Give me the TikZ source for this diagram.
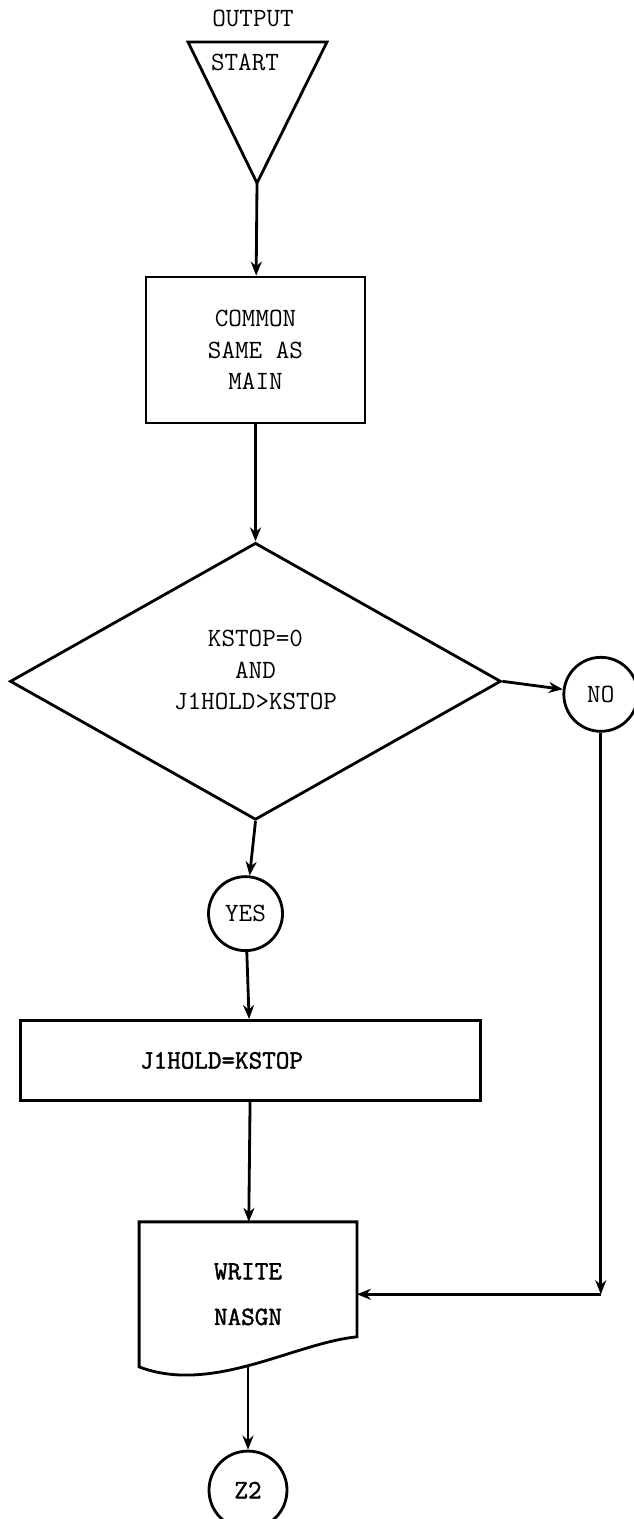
\documentclass[tikz,border=0pt]{standalone}
\usepackage{fontspec}
\setmonofont{Latin Modern Mono}[AutoFakeBold=1.6]
\usetikzlibrary{arrows.meta, positioning, calc, shapes.geometric}

\begin{document}
\begin{tikzpicture}[
    font=\ttfamily\fontsize{15}{18}\selectfont,
    line width=1.6pt,
    node distance=1cm,
    block/.style={draw, minimum width=4.38cm, minimum height=2.92cm, align=center},
    decision/.style={diamond, draw, minimum width=9.82cm, minimum height=5.54cm, inner sep=0pt, align=center},
    conn/.style={circle, draw, minimum size=1.48cm, inner sep=0pt},
    arr/.style={-{Stealth[length=2.8mm, width=2.2mm]}},
]
\useasboundingbox (0,0) rectangle (12.68,-30.38);

\node (title) at (5.06,-0.36) {OUTPUT};
\coordinate (tl) at (3.76,-0.84);
\coordinate (tr) at (6.54,-0.84);
\coordinate (apex) at (5.14,-3.66);
\draw (tl) -- (tr) -- (apex) -- cycle;
\node (start) at (4.9,-1.24) {START};

\node[block] (common) at (5.11,-7.00) {COMMON\\SAME AS\\MAIN};
\node[decision, below=2.34cm of common, text depth=0.45cm] (test) {KSTOP=0\\AND\\J1HOLD>KSTOP};
\node[conn, below=1.08cm of test, xshift=-0.2cm] (yes) {YES};
\node[conn, right=1.2cm of test, yshift=-0.26cm] (no) {NO};
\node[draw, minimum width=9.2cm, minimum height=1.6cm, below=1.34cm of yes, xshift=0.1cm] (assign) {\bfseries J1HOLD=KSTOP\hspace*{2.2em}};
\node[minimum width=4.3cm, minimum height=2.84cm, below=2.4cm of assign, xshift=-0.05cm, align=center, font=\ttfamily\bfseries\fontsize{15}{18}\selectfont] (write) {WRITE\\[0.28cm]NASGN};
\node[conn, minimum size=1.56cm, below=1.66cm of write, font=\ttfamily\bfseries\fontsize{15}{18}\selectfont] (z2) {Z2};
\coordinate (turn) at (no |- write.east);

\draw (write.north west) -- (write.north east) -- ($(write.north east)+(0,-2.3)$)
    .. controls ($(write.north east)+(-1.24,-2.42)$) and ($(write.north west)+(1.46,-3.46)$)
    .. ($(write.north west)+(0,-2.9)$) -- cycle;

\draw[arr] (apex) -- (common);
\draw[arr] (common) -- (test);
\draw[arr] (test.south) -- (yes);
\draw[arr] (test.east) -- (no);
\draw[arr] (yes) -- (assign);
\draw[arr] (assign) -- (write);
\draw[arr] (write) -- (z2);
\draw[arr] (no) -- (turn);
\draw[arr] (turn) -- (write.east);
\end{tikzpicture}
\end{document}
